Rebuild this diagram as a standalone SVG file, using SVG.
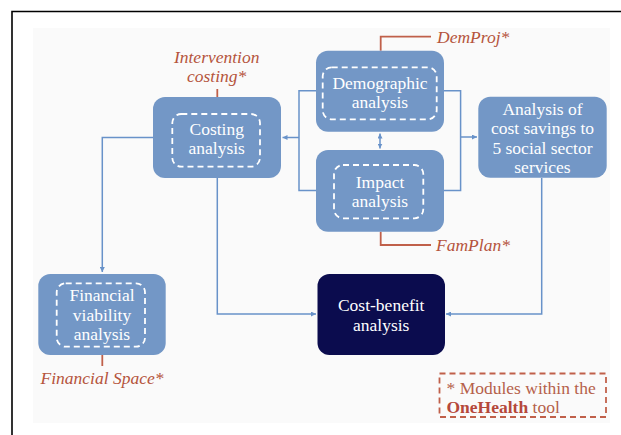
<svg xmlns="http://www.w3.org/2000/svg" width="621" height="435" viewBox="0 0 621 435">
<style>
.box{fill:#7397c6;}
.dark{fill:#0b0c4e;}
.inner{fill:none;stroke:#ffffff;stroke-width:1.8;stroke-dasharray:6 4;}
.t{font-family:"Liberation Serif",serif;font-size:17.5px;fill:#ffffff;text-anchor:middle;}
.lab{font-family:"Liberation Serif",serif;font-size:17.5px;font-style:italic;fill:#b5543c;}
.red{fill:none;stroke:#c0604a;stroke-width:1.8;}
.conn{fill:none;stroke:#6892c9;stroke-width:1.5;}
</style>
<defs>
<marker id="ah" viewBox="0 0 10 10" refX="10" refY="5" markerWidth="5" markerHeight="5" orient="auto-start-reverse" markerUnits="userSpaceOnUse">
<path d="M0,0 L10,5 L0,10 z" fill="#6892c9"/>
</marker>
</defs>
<rect x="0" y="0" width="621" height="435" fill="#ffffff"/>
<rect x="33" y="28" width="577" height="395" fill="#fafafa"/>
<path d="M12,435 V11.5 H621" fill="none" stroke="#000000" stroke-width="1.6"/>

<g id="connectors">
<path class="conn" d="M153,137.5 H102.3 V272" marker-end="url(#ah)"/>
<path class="conn" d="M217.3,178 V314 H316" marker-end="url(#ah)"/>
<path class="conn" d="M541.7,178 V314 H446" marker-end="url(#ah)"/>
<path class="conn" d="M316,90.7 H299 V190.5 H316"/>
<path class="conn" d="M299,137.5 H282.5" marker-end="url(#ah)"/>
<path class="conn" d="M444,90.7 H460.6 V190.5 H444"/>
<path class="conn" d="M460.6,137 H477" marker-end="url(#ah)"/>
<path class="conn" d="M380,133.5 V148.5" marker-start="url(#ah)" marker-end="url(#ah)"/>
<path class="red" d="M217.3,89 V97"/>
<path class="red" d="M380.7,50.7 V36.7 H431"/>
<path class="red" d="M380.7,231.7 V245 H431"/>
<path class="red" d="M102.3,355 V366"/>
</g>

<g id="costing">
<rect class="box" x="153" y="97" width="128" height="81" rx="12"/>
<rect class="inner" x="172.3" y="114" width="87.7" height="52.7" rx="9"/>
<text class="t" x="216.7" y="135">Costing</text>
<text class="t" x="216.7" y="154">analysis</text>
</g>

<g id="demographic">
<rect class="box" x="316" y="50.7" width="128" height="81" rx="12"/>
<rect class="inner" x="322.7" y="67.3" width="114" height="52" rx="9"/>
<text class="t" x="380" y="88.5">Demographic</text>
<text class="t" x="380" y="107.5">analysis</text>
</g>

<g id="impact">
<rect class="box" x="316" y="150" width="128" height="81.7" rx="12"/>
<rect class="inner" x="334" y="165" width="89.3" height="53.3" rx="9"/>
<text class="t" x="380" y="188">Impact</text>
<text class="t" x="380" y="207">analysis</text>
</g>

<g id="savings">
<rect class="box" x="478.3" y="96.7" width="128.4" height="81" rx="12"/>
<text class="t" x="542.5" y="114.5">Analysis of</text>
<text class="t" x="542.5" y="134">cost savings to</text>
<text class="t" x="542.5" y="153.5">5 social sector</text>
<text class="t" x="542.5" y="173">services</text>
</g>

<g id="financial">
<rect class="box" x="38.3" y="274" width="127.4" height="81" rx="12"/>
<rect class="inner" x="56.7" y="283.3" width="88.3" height="63.4" rx="9"/>
<text class="t" x="102" y="301">Financial</text>
<text class="t" x="102" y="320.5">viability</text>
<text class="t" x="102" y="340">analysis</text>
</g>

<g id="costbenefit">
<rect class="dark" x="317.5" y="274" width="127.5" height="81" rx="12"/>
<text class="t" x="381.2" y="311">Cost-benefit</text>
<text class="t" x="381.2" y="331">analysis</text>
</g>

<g id="label-intervention">
<text class="lab" x="216.7" y="62.5" text-anchor="middle">Intervention</text>
<text class="lab" x="216.7" y="82" text-anchor="middle">costing*</text>
</g>
<g id="label-demproj">
<text class="lab" x="437" y="43">DemProj*</text>
</g>
<g id="label-famplan">
<text class="lab" x="436" y="250.5">FamPlan*</text>
</g>
<g id="label-financialspace">
<text class="lab" x="102" y="384" text-anchor="middle">Financial Space*</text>
</g>

<g id="legend">
<rect x="439.5" y="373.5" width="166.5" height="43.5" fill="none" stroke="#c0604a" stroke-width="1.8" stroke-dasharray="6 4"/>
<text x="446.5" y="393.5" font-family="'Liberation Serif',serif" font-size="17.5" fill="#b5604a">* Modules within the</text>
<text x="446.5" y="412.5" font-family="'Liberation Serif',serif" font-size="17.5" fill="#b5604a"><tspan font-weight="bold" fill="#b5483a">OneHealth</tspan> tool</text>
</g>
</svg>
